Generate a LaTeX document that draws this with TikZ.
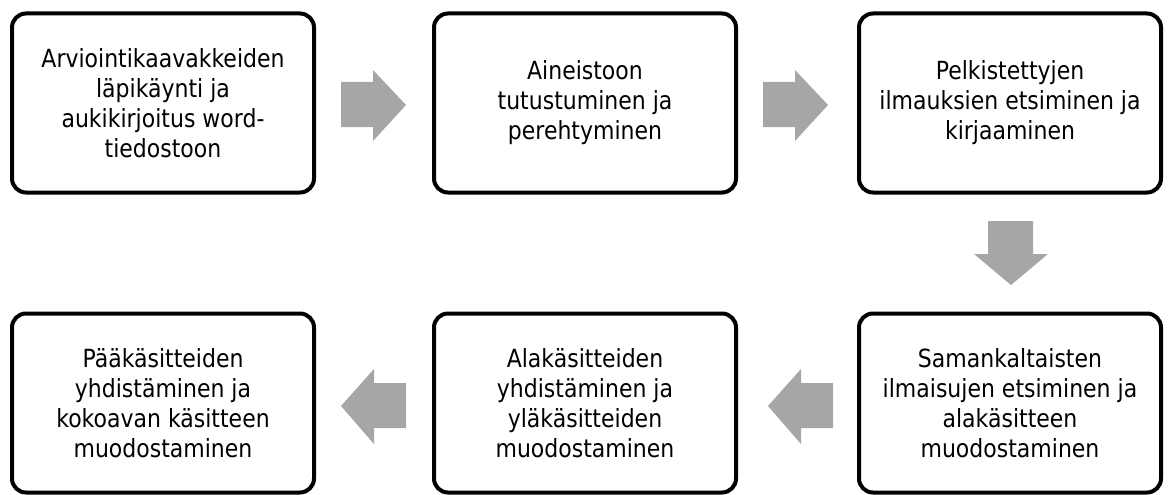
\documentclass[tikz,border=0pt]{standalone}
\usepackage{fontspec}
\setmainfont{DejaVu Sans}[FakeStretch=0.88]
\begin{document}
\begin{tikzpicture}[x=1pt,y=-1pt,
  stepbox/.style={draw=black,line width=4pt,rounded corners=14pt,fill=white,
    minimum width=302pt,minimum height=179pt,align=center,inner sep=0pt,
    font=\fontsize{25}{30}\selectfont},
  flowarrow/.style={fill=black!35,draw=none}]
\useasboundingbox (0,0) rectangle (1168,495);
\node[stepbox] (b1) at (163,103) {Arviointikaavakkeiden\\läpikäynti ja\\aukikirjoitus word-\\tiedostoon};
\node[stepbox] (b2) at (585,103) {Aineistoon\\tutustuminen ja\\perehtyminen};
\node[stepbox] (b3) at (1010,103) {Pelkistettyjen\\ilmauksien etsiminen ja\\kirjaaminen};
\node[stepbox] (b4) at (1010,403) {Samankaltaisten\\ilmaisujen etsiminen ja\\alakäsitteen\\muodostaminen};
\node[stepbox] (b5) at (585,403) {Alakäsitteiden\\yhdistäminen ja\\yläkäsitteiden\\muodostaminen};
\node[stepbox] (b6) at (163,403) {Pääkäsitteiden\\yhdistäminen ja\\kokoavan käsitteen\\muodostaminen};
% right arrows
\fill[flowarrow] (341,82) -- (373,82) -- (373,70) -- (406,105) -- (373,141) -- (373,127) -- (341,127) -- cycle;
\fill[flowarrow] (763,82) -- (795,82) -- (795,70) -- (828,105) -- (795,141) -- (795,127) -- (763,127) -- cycle;
% down arrow
\fill[flowarrow] (988,221) -- (1033,221) -- (1033,254) -- (1048,254) -- (1011,285) -- (974,254) -- (988,254) -- cycle;
% left arrows
\fill[flowarrow] (833,383) -- (801,383) -- (801,369) -- (768,406) -- (801,444) -- (801,428) -- (833,428) -- cycle;
\fill[flowarrow] (406,383) -- (374,383) -- (374,369) -- (341,406) -- (374,444) -- (374,428) -- (406,428) -- cycle;
\end{tikzpicture}
\end{document}
